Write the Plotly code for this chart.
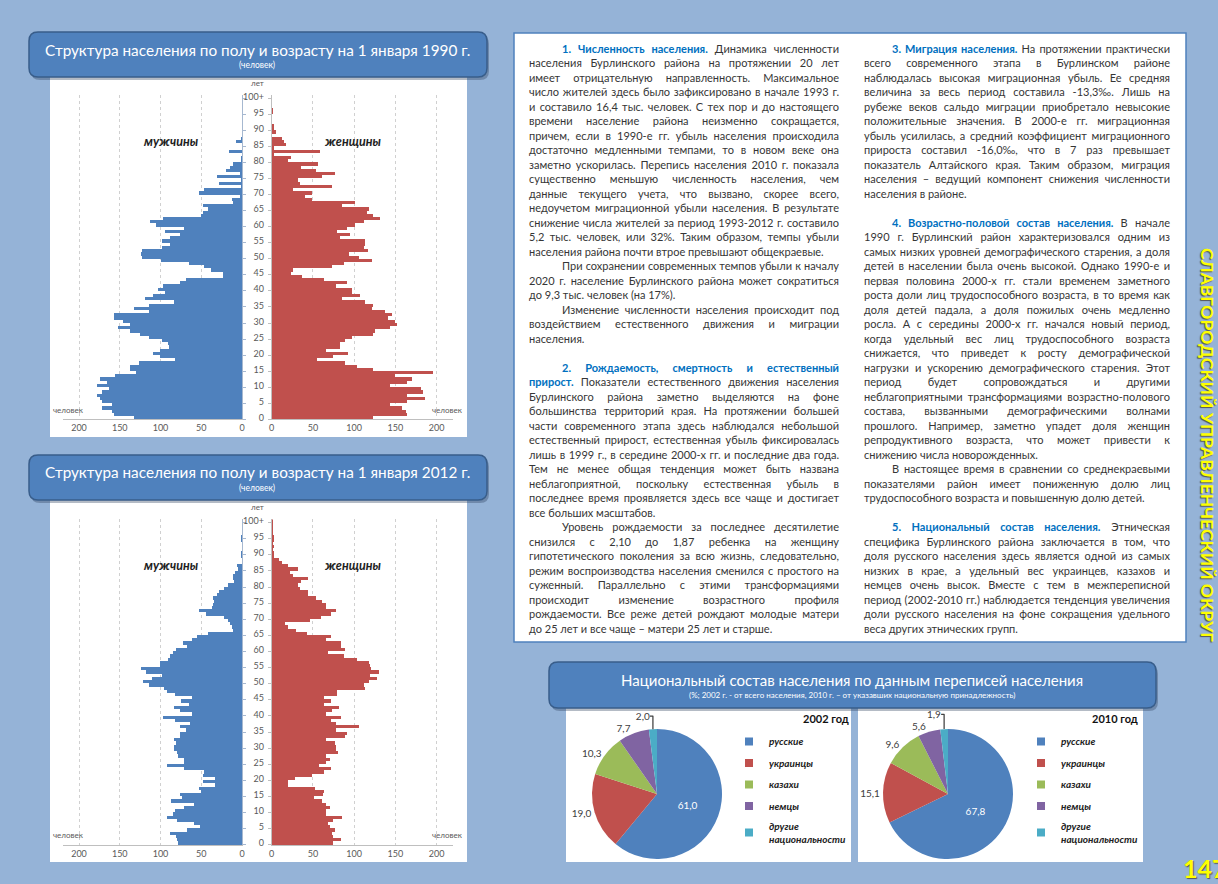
import json
import plotly.graph_objects as go

W, H = 1218, 884


def px(x):
    return x / W


def py(y):
    return 1 - y / H


# ---------------- DATA ----------------
ages = list(range(101))
age_tick_vals = list(range(0, 101, 5))
age_tick_text = [str(a) for a in range(0, 100, 5)] + ["100+"]
x_tick_vals = [0, 50, 100, 150, 200]

male_1990 = [133, 157, 160, 172, 160, 172, 175, 178, 172, 164,
             178, 166, 175, 156, 131, 138, 138, 127, 83, 101,
             109, 101, 90, 91, 98, 114, 126, 138, 153, 138,
             147, 158, 157, 115, 133, 115, 84, 120, 110, 95,
             104, 97, 77, 69, 24, 24, 38, 47, 65, 100,
             123, 124, 123, 99, 89, 99, 89, 76, 95, 72,
             106, 113, 97, 51, 48, 42, 48, 12, 13, 3,
             53, 47, 1, 28, 2, 31, 3, 20, 15, 11,
             1, 1, 0, 16, 0, 0, 8, 2, 0, 0,
             0, 0, 0, 0, 0, 0, 0, 0, 0, 0, 0]
female_1990 = [123, 164, 162, 157, 143, 164, 186, 164, 183, 180,
               143, 164, 170, 149, 195, 123, 103, 89, 55, 74,
               92, 66, 83, 83, 89, 97, 122, 125, 143, 152,
               149, 141, 145, 137, 121, 123, 113, 85, 107, 97,
               97, 78, 91, 63, 36, 23, 25, 73, 87, 121,
               105, 93, 116, 111, 113, 113, 83, 95, 79, 91,
               100, 111, 131, 122, 115, 117, 85, 100, 48, 40,
               49, 25, 73, 34, 32, 61, 76, 53, 35, 56,
               19, 23, 3, 58, 3, 17, 14, 12, 0, 5,
               3, 3, 0, 0, 0, 1, 1, 0, 0, 0, 0]
male_2012 = [79, 80, 81, 89, 68, 52, 59, 80, 93, 85,
             82, 72, 59, 87, 74, 76, 51, 53, 33, 48,
             33, 48, 47, 71, 93, 72, 71, 79, 80, 84,
             84, 81, 84, 76, 77, 69, 76, 64, 82, 97,
             62, 76, 84, 65, 75, 62, 82, 93, 96, 115,
             122, 111, 99, 118, 124, 101, 101, 91, 89, 85,
             81, 68, 73, 62, 56, 42, 11, 13, 15, 17,
             23, 44, 53, 37, 36, 35, 36, 31, 29, 23,
             17, 10, 11, 11, 9, 5, 6, 0, 0, 1,
             1, 0, 0, 0, 1, 1, 0, 0, 0, 0, 0]
female_2012 = [74, 84, 74, 73, 76, 70, 68, 74, 85, 66,
               66, 70, 65, 61, 51, 62, 63, 52, 19, 19,
               28, 48, 63, 72, 57, 65, 70, 66, 80, 78,
               77, 76, 65, 88, 91, 77, 105, 77, 71, 84,
               65, 73, 81, 63, 71, 63, 79, 79, 113, 111,
               117, 127, 119, 130, 120, 119, 117, 103, 87, 68,
               89, 84, 84, 66, 72, 42, 29, 19, 16, 46,
               59, 71, 77, 66, 65, 61, 53, 44, 44, 34,
               31, 35, 44, 26, 22, 32, 19, 12, 9, 2,
               3, 1, 2, 1, 3, 2, 1, 0.5, 1, 1, 1]

nationalities = ["русские", "украинцы", "казахи", "немцы", "другие<br>национальности"]
share_2002 = [61.0, 19.0, 10.3, 7.7, 2.0]
share_2010 = [67.8, 15.1, 9.6, 5.6, 1.9]

# ---------------- STYLE ----------------
PAGE_BG = "#95B3D7"
BOX_BLUE = "#4F81BD"
BOX_EDGE = "#385D8A"
MALE = "#4F81BD"
FEMALE = "#C0504D"
PIE_COLORS = ["#4F81BD", "#C0504D", "#9BBB59", "#8064A2", "#4BACC6"]
HEAD = "#0070C0"
TXT = "#363636"
AX = "#595959"
FONT = "Lato"

fig = go.Figure()
shapes = []
annotations = []


def rounded_path(x0, y0, x1, y1, r):
    def p(x, y):
        return f"{px(x):.5f},{py(y):.5f}"
    return (f"M{p(x0 + r, y0)} L{p(x1 - r, y0)} Q{p(x1, y0)} {p(x1, y0 + r)} "
            f"L{p(x1, y1 - r)} Q{p(x1, y1)} {p(x1 - r, y1)} L{p(x0 + r, y1)} "
            f"Q{p(x0, y1)} {p(x0, y1 - r)} L{p(x0, y0 + r)} Q{p(x0, y0)} {p(x0 + r, y0)} Z")


def rect(x0, y0, x1, y1, fill, line=None, lw=0):
    shapes.append(dict(type="rect", xref="paper", yref="paper", layer="below",
                       x0=px(x0), x1=px(x1), y0=py(y1), y1=py(y0),
                       fillcolor=fill, line=dict(color=line or fill, width=lw)))


def title_box(x0, y0, x1, y1):
    shapes.append(dict(type="path", xref="paper", yref="paper", layer="below",
                       path=rounded_path(x0 + 2, y0 + 3, x1 + 2, y1 + 3, 9),
                       fillcolor="rgba(40,60,90,0.35)", line=dict(width=0)))
    shapes.append(dict(type="path", xref="paper", yref="paper", layer="below",
                       path=rounded_path(x0, y0, x1, y1, 9),
                       fillcolor=BOX_BLUE, line=dict(color=BOX_EDGE, width=1.5)))


def text(x, y, s, size=11, color=TXT, xanchor="left", **kw):
    annotations.append(dict(x=px(x), y=py(y), xref="paper", yref="paper", text=s,
                            showarrow=False, xanchor=xanchor, yanchor="middle",
                            font=dict(family=FONT, size=size, color=color), **kw))
    return len(annotations) - 1


# ---------------- PANELS ----------------
rect(50, 77, 467, 437, "white")
rect(50, 500, 467, 862, "white")
title_box(29, 32, 487, 77)
title_box(29, 455, 487, 500)
rect(514, 33, 1186, 642, "white", BOX_BLUE, 1.5)
rect(566, 707, 851, 862, "white")
rect(858, 707, 1143, 862, "white")
title_box(549, 662, 1156, 708)

# ---------------- PYRAMIDS ----------------
layout_axes = {}


def pyramid(n, male, female, age0_y, ppy, title_y, lbl_y):
    xm, xf = f"x{n}" if n > 1 else "x", f"x{n + 1}"
    ym, yf = f"y{n}" if n > 1 else "y", f"y{n + 1}"
    fig.add_trace(go.Bar(y=ages, x=male, orientation="h", marker=dict(color=MALE, line=dict(width=0)),
                         xaxis=xm, yaxis=ym, showlegend=False, width=1, hoverinfo="skip"))
    fig.add_trace(go.Bar(y=ages, x=female, orientation="h", marker=dict(color=FEMALE, line=dict(width=0)),
                         xaxis=xf, yaxis=yf, showlegend=False, width=1, hoverinfo="skip"))
    ydom = [py(age0_y + 0.5 * ppy), py(age0_y - 100.5 * ppy)]
    common_x = dict(tickvals=x_tick_vals, showgrid=True, gridcolor="#D0D0D0", griddash="dot",
                    gridwidth=1, zeroline=False, showline=True, linecolor="#BFBFBF", linewidth=1,
                    ticks="", tickfont=dict(family=FONT, size=9, color=AX), fixedrange=True)
    kx_m = "xaxis" if n == 1 else f"xaxis{n}"
    kx_f = f"xaxis{n + 1}"
    ky_m = "yaxis" if n == 1 else f"yaxis{n}"
    ky_f = f"yaxis{n + 1}"
    layout_axes[kx_m] = dict(domain=[px(62.7), px(242)], range=[220, 0], anchor=ym, **common_x)
    layout_axes[kx_f] = dict(domain=[px(271.7), px(453.2)], range=[0, 220], anchor=yf, **common_x)
    bounds = [a + 0.5 for a in range(-1, 100, 5)]
    layout_axes[ky_m] = dict(domain=ydom, range=[-0.5, 100.5], anchor=xm, side="right",
                             showline=True, linecolor="#A6B8D0", linewidth=1, showgrid=False,
                             zeroline=False, tickvals=bounds, ticks="outside", ticklen=3,
                             tickcolor="#A6B8D0", showticklabels=False, fixedrange=True)
    layout_axes[ky_f] = dict(domain=ydom, range=[-0.5, 100.5], anchor=xf, side="left",
                             showline=True, linecolor="#BFBFBF", linewidth=1, showgrid=False,
                             zeroline=False, tickvals=age_tick_vals, ticktext=age_tick_text,
                             ticks="", ticklabelstandoff=5,
                             minor=dict(tickvals=bounds, ticks="outside", ticklen=3, tickcolor="#BFBFBF"),
                             tickfont=dict(family=FONT, size=9, color=AX), fixedrange=True)
    text(257, age0_y - 100 * ppy - 14, "лет", size=8, color=AX, xanchor="center")
    text(170, title_y, "<b><i>мужчины</i></b>", size=12.5, color="#1E1E1E", xanchor="center")
    text(352, title_y, "<b><i>женщины</i></b>", size=12.5, color="#1E1E1E", xanchor="center")
    text(68, lbl_y, "человек", size=8, color=AX, xanchor="center")
    text(447, lbl_y, "человек", size=8, color=AX, xanchor="center")


pyramid(1, male_1990, female_1990, 417.7, 3.21, 141, 410)
pyramid(3, male_2012, female_2012, 843.3, 3.223, 565, 835)

text(257, 50, "Структура населения по полу и возрасту на 1 января 1990 г.", size=15.3, color="white", xanchor="center")
text(257, 65, "(человек)", size=8.5, color="white", xanchor="center")
text(257, 472, "Структура населения по полу и возрасту на 1 января 2012 г.", size=15.3, color="white", xanchor="center")
text(257, 488, "(человек)", size=8.5, color="white", xanchor="center")

# ---------------- PIES ----------------
def fmt(v):
    return f"{v:.1f}".replace(".", ",")


for vals, dom_x in [(share_2002, (592, 722)), (share_2010, (883, 1013))]:
    fig.add_trace(go.Pie(labels=nationalities, values=vals, sort=False, direction="clockwise",
                         rotation=0, marker=dict(colors=PIE_COLORS, line=dict(width=0)),
                         text=[fmt(v) for v in vals], textinfo="text",
                         textposition=["inside", "outside", "outside", "outside", "outside"],
                         insidetextorientation="horizontal",
                         insidetextfont=dict(family=FONT, size=10, color="white"),
                         outsidetextfont=dict(family=FONT, size=10, color="#404040"),
                         domain=dict(x=[px(dom_x[0]), px(dom_x[1])], y=[py(859), py(729)]),
                         showlegend=False, hoverinfo="skip"))

# legend entries (one per nationality, for each of the two pie panels)
for leg in ["legend", "legend2"]:
    for i, (name, col) in enumerate(zip(nationalities, PIE_COLORS)):
        fig.add_trace(go.Scatter(x=[None], y=[None], mode="markers", name=name,
                                 marker=dict(symbol="square", size=8, color=col),
                                 legend=leg, legendgroup=f"{leg}_{i}", showlegend=True,
                                 xaxis="x", yaxis="y", hoverinfo="skip"))

leg_common = dict(xanchor="left", yanchor="top", bgcolor="rgba(0,0,0,0)",
                  font=dict(family=FONT, size=10, color="#222", style="italic", weight="bold"),
                  traceorder="grouped", itemclick=False, itemdoubleclick=False, itemwidth=30,
                  tracegroupgap=2.5)

text(826, 718, "<b>2002 год</b>", size=11, color="#111", xanchor="center")
text(1115, 718, "<b>2010 год</b>", size=11, color="#111", xanchor="center")
text(852, 680, "Национальный состав населения по данным переписей населения", size=15, color="white", xanchor="center")
text(852, 695, "(%; 2002 г. - от всего населения, 2010 г. – от указавших национальную принадлежность)", size=8, color="white", xanchor="center")

# ---------------- TEXT BLOCK ----------------
def head(s):
    return f"<span style='color:{HEAD}'><b>{s}</b></span>"


col1 = [
    (1, head("1. Численность населения.") + " Динамика численности"),
    (0, "населения Бурлинского района на протяжении 20 лет"),
    (0, "имеет отрицательную направленность. Максимальное"),
    (0, "число жителей здесь было зафиксировано в начале 1993 г."),
    (0, "и составило 16,4 тыс. человек. С тех пор и до настоящего"),
    (0, "времени население района неизменно сокращается,"),
    (0, "причем, если в 1990-е гг. убыль населения происходила"),
    (0, "достаточно медленными темпами, то в новом веке она"),
    (0, "заметно ускорилась. Перепись населения 2010 г. показала"),
    (0, "существенно меньшую численность населения, чем"),
    (0, "данные текущего учета, что вызвано, скорее всего,"),
    (0, "недоучетом миграционной убыли населения. В результате"),
    (0, "снижение числа жителей за период 1993-2012 г. составило"),
    (0, "5,2 тыс. человек, или 32%. Таким образом, темпы убыли"),
    (0, "населения района почти втрое превышают общекраевые."),
    (1, "При сохранении современных темпов убыли к началу"),
    (0, "2020 г. население Бурлинского района может сократиться"),
    (0, "до 9,3 тыс. человек (на 17%)."),
    (1, "Изменение численности населения происходит под"),
    (0, "воздействием естественного движения и миграции"),
    (0, "населения."),
    (0, ""),
    (1, head("2. Рождаемость, смертность и естественный")),
    (0, head("прирост.") + " Показатели естественного движения населения"),
    (0, "Бурлинского района заметно выделяются на фоне"),
    (0, "большинства территорий края. На протяжении большей"),
    (0, "части современного этапа здесь наблюдался небольшой"),
    (0, "естественный прирост, естественная убыль фиксировалась"),
    (0, "лишь в 1999 г., в середине 2000-х гг. и последние два года."),
    (0, "Тем не менее общая тенденция может быть названа"),
    (0, "неблагоприятной, поскольку естественная убыль в"),
    (0, "последнее время проявляется здесь все чаще и достигает"),
    (0, "все больших масштабов."),
    (1, "Уровень рождаемости за последнее десятилетие"),
    (0, "снизился с 2,10 до 1,87 ребенка на женщину"),
    (0, "гипотетического поколения за всю жизнь, следовательно,"),
    (0, "режим воспроизводства населения сменился с простого на"),
    (0, "суженный. Параллельно с этими трансформациями"),
    (0, "происходит изменение возрастного профиля"),
    (0, "рождаемости. Все реже детей рождают молодые матери"),
    (0, "до 25 лет и все чаще – матери 25 лет и старше."),
]
col2 = [
    (1, head("3. Миграция населения.") + " На протяжении практически"),
    (0, "всего современного этапа в Бурлинском районе"),
    (0, "наблюдалась высокая миграционная убыль. Ее средняя"),
    (0, "величина за весь период составила -13,3‰. Лишь на"),
    (0, "рубеже веков сальдо миграции приобретало невысокие"),
    (0, "положительные значения. В 2000-е гг. миграционная"),
    (0, "убыль усилилась, а средний коэффициент миграционного"),
    (0, "прироста составил -16,0‰, что в 7 раз превышает"),
    (0, "показатель Алтайского края. Таким образом, миграция"),
    (0, "населения – ведущий компонент снижения численности"),
    (0, "населения в районе."),
    (0, ""),
    (1, head("4. Возрастно-половой состав населения.") + " В начале"),
    (0, "1990 г. Бурлинский район характеризовался одним из"),
    (0, "самых низких уровней демографического старения, а доля"),
    (0, "детей в населении была очень высокой. Однако 1990-е и"),
    (0, "первая половина 2000-х гг. стали временем заметного"),
    (0, "роста доли лиц трудоспособного возраста, в то время как"),
    (0, "доля детей падала, а доля пожилых очень медленно"),
    (0, "росла. А с середины 2000-х гг. начался новый период,"),
    (0, "когда удельный вес лиц трудоспособного возраста"),
    (0, "снижается, что приведет к росту демографической"),
    (0, "нагрузки и ускорению демографического старения. Этот"),
    (0, "период будет сопровождаться и другими"),
    (0, "неблагоприятными трансформациями возрастно-полового"),
    (0, "состава, вызванными демографическими волнами"),
    (0, "прошлого. Например, заметно упадет доля женщин"),
    (0, "репродуктивного возраста, что может привести к"),
    (0, "снижению числа новорожденных."),
    (1, "В настоящее время в сравнении со среднекраевыми"),
    (0, "показателями район имеет пониженную долю лиц"),
    (0, "трудоспособного возраста и повышенную долю детей."),
    (0, ""),
    (1, head("5. Национальный состав населения.") + " Этническая"),
    (0, "специфика Бурлинского района заключается в том, что"),
    (0, "доля русского населения здесь является одной из самых"),
    (0, "низких в крае, а удельный вес украинцев, казахов и"),
    (0, "немцев очень высок. Вместе с тем в межпереписной"),
    (0, "период (2002-2010 гг.) наблюдается тенденция увеличения"),
    (0, "доли русского населения на фоне сокращения удельного"),
    (0, "веса других этнических групп."),
]
justify = {}
for x_left, x_ind, x_right, lines in [(527, 560, 837, col1), (862, 890, 1168, col2)]:
    for i, (ind, s) in enumerate(lines):
        if not s:
            continue
        x0 = x_ind if ind else x_left
        k = text(x0, 48.3 + i * 14.5, s, size=11, align="left")
        nxt = lines[i + 1] if i + 1 < len(lines) else None
        if nxt and nxt[1] and nxt[0] == 0:
            justify[k] = x_right - x0

# ---------------- SIDE TEXT ----------------
annotations.append(dict(x=px(1208), y=py(445), xref="paper", yref="paper",
                        text="<b>СЛАВГОРОДСКИЙ УПРАВЛЕНЧЕСКИЙ ОКРУГ</b>", textangle=90,
                        showarrow=False, xanchor="center", yanchor="middle",
                        font=dict(family=FONT, size=17.5, color="#FFFF00", shadow="1px 1px 1px #555")))
annotations.append(dict(x=px(1181), y=py(868), xref="paper", yref="paper",
                        text="<b>147</b>", showarrow=False, xanchor="left", yanchor="middle",
                        font=dict(family=FONT, size=25, color="#FFFF00", shadow="1px 1px 1px #555")))

fig.update_layout(
    width=W, height=H, margin=dict(l=0, r=0, t=0, b=0),
    paper_bgcolor=PAGE_BG, plot_bgcolor="rgba(0,0,0,0)", template="none",
    font=dict(family=FONT), bargap=0, barmode="overlay",
    shapes=shapes, annotations=annotations,
    legend=dict(x=px(729), y=py(727), **leg_common),
    legend2=dict(x=px(1021), y=py(727), **leg_common),
    **layout_axes,
)

post = """
document.body.style.margin='0px';
(function(){
  var J = %s;
  function run(){
    var gd = document.getElementById('{plot_id}');
    if(!gd) return;
    Object.keys(J).forEach(function(k){
      var t = gd.querySelector('g.annotation[data-index="'+k+'"] text.annotation-text');
      if(!t) return;
      t.style.wordSpacing = '0px';
      var n = (t.textContent.match(/ /g)||[]).length;
      if(!n) return;
      var w = t.getComputedTextLength();
      var extra = (J[k]-w)/n;
      if(extra > -1.5) t.style.wordSpacing = extra + 'px';
    });
  }
  run();
  if(document.fonts && document.fonts.ready){ document.fonts.ready.then(function(){ setTimeout(run, 30); }); }
  setTimeout(run, 200);
})();
""" % json.dumps(justify)

fig.write_html("out.html", config={"displayModeBar": False}, post_script=post)
